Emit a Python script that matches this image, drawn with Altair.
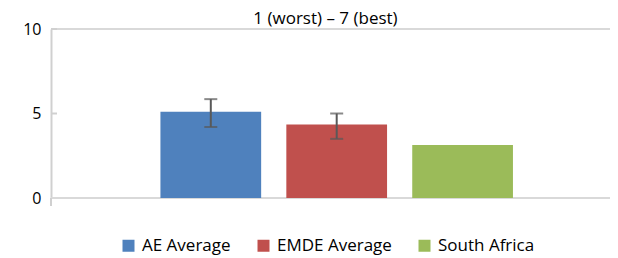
import altair as alt
import pandas as pd

categories = ["AE Average", "EMDE Average", "South Africa"]
values = [5.1, 4.35, 3.13]
err_low = [4.2, 3.5, None]
err_high = [5.85, 5.0, None]
colors = ["#4F81BD", "#C0504D", "#9BBB59"]
y_ticks = [0, 5, 10]
title_text = "1 (worst) \u2013 7 (best)"

W, H = 559, 169
FONT = "Open Sans"

df = pd.DataFrame({"cat": categories, "value": values, "lo": err_low, "hi": err_high})
err_df = df.dropna()

x_enc = alt.X("cat:N", sort=categories, axis=None,
              scale=alt.Scale(paddingInner=0.2, paddingOuter=0.82, align=0.53))
y_scale = alt.Scale(domain=[0, 10], nice=False)

bars = alt.Chart(df).mark_bar().encode(
    x=x_enc,
    y=alt.Y("value:Q", scale=y_scale,
            axis=alt.Axis(values=y_ticks, title=None, grid=False, ticks=False,
                          domainColor="#d0d0d0", domainWidth=2, labelFont=FONT,
                          labelFontSize=16, labelColor="#000000", labelPadding=10)),
    color=alt.Color("cat:N", sort=categories,
                    scale=alt.Scale(domain=categories, range=colors),
                    legend=alt.Legend(title=None, orient="none", direction="horizontal",
                                      legendX=69, legendY=208, symbolType="square",
                                      symbolSize=144, symbolStrokeWidth=0,
                                      labelFont=FONT, labelFontSize=17,
                                      labelColor="#000000", labelOffset=5,
                                      columnPadding=24)),
)

err_rule = alt.Chart(err_df).mark_rule(color="#595959", strokeWidth=2).encode(
    x=alt.X("cat:N", sort=categories, axis=None),
    y=alt.Y("lo:Q", scale=y_scale),
    y2="hi:Q",
)
cap_lo = alt.Chart(err_df).mark_tick(color="#595959", thickness=2, size=13).encode(
    x=alt.X("cat:N", sort=categories, axis=None),
    y=alt.Y("lo:Q", scale=y_scale),
)
cap_hi = alt.Chart(err_df).mark_tick(color="#595959", thickness=2, size=13).encode(
    x=alt.X("cat:N", sort=categories, axis=None),
    y=alt.Y("hi:Q", scale=y_scale),
)

top_df = pd.DataFrame({"v": [10]})
top_line = alt.Chart(top_df).mark_rule(color="#d9d9d9", strokeWidth=2).encode(
    y=alt.Y("v:Q", scale=y_scale), x=alt.value(0), x2=alt.value(W + 10)
)
zero_df = pd.DataFrame({"v": [0]})
zero_line = alt.Chart(zero_df).mark_rule(color="#d9d9d9", strokeWidth=2).encode(
    y=alt.Y("v:Q", scale=y_scale), x=alt.value(0), x2=alt.value(W + 10)
)
tick_df = pd.DataFrame({"v": [5, 10]})
ticks_in = alt.Chart(tick_df).mark_rule(color="#d0d0d0", strokeWidth=2).encode(
    y=alt.Y("v:Q", scale=y_scale), x=alt.value(0), x2=alt.value(6)
)
below = alt.Chart(zero_df).mark_rule(color="#d0d0d0", strokeWidth=2).encode(
    x=alt.value(0), y=alt.value(H), y2=alt.value(H + 8)
)

chart = alt.layer(top_line, zero_line, bars, err_rule, cap_lo, cap_hi, ticks_in, below).properties(
    width=W, height=H,
    title=alt.Title(title_text, font=FONT, fontSize=17, fontWeight="normal",
                    color="#000000", anchor="middle", offset=0, dx=-5, dy=7),
    autosize=alt.AutoSizeParams(type="none"),
    padding={"left": 43, "top": 21, "right": 0, "bottom": 58},
).configure_view(stroke=None)

chart.save("out.html", embed_options={"renderer": "svg", "actions": False})
